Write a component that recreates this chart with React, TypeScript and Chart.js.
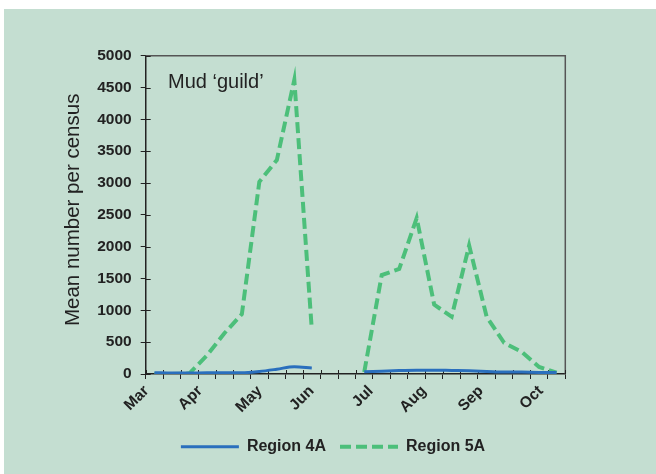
import React, { useEffect, useRef } from 'react';
import { Chart, registerables } from 'chart.js';

Chart.register(...registerables);

// Census index (one per sampling census, Mar -> Oct)
const censusIndex = [0, 1, 2, 3, 4, 5, 6, 7, 8, 9, 10, 11, 12, 13, 14, 15, 16, 17, 18, 19, 20, 21, 22, 23];
const region4A = [20, 15, 15, 20, 20, 20, 40, 75, 115, 95, null, null, 35, 45, 55, 60, 60, 55, 50, 40, 30, 30, 25, 25];
const region5A = [0, 0, 10, 290, 640, 940, 3020, 3360, 4620, 700, null, null, 30, 1555, 1650, 2450, 1090, 900, 2020, 900, 490, 350, 110, 20];
const monthLabels = ['Mar', 'Apr', 'May', 'Jun', 'Jul', 'Aug', 'Sep', 'Oct'];
const monthPositions = [-0.45, 2.6, 6.03, 8.99, 12.38, 15.41, 18.68, 22.1];
const yMin = 0;
const yMax = 5000;
const yStep = 500;
const yTitle = 'Mean number per census';
const panelNote = 'Mud \u2018guild\u2019';

const FONT = '"Liberation Sans", Arial, Helvetica, sans-serif';
const INK = '#222222';

const boundaryValues = Array.from({ length: censusIndex.length + 1 }, (_, k) => k - 0.5);

const isMonthTick = (v: number) => monthPositions.some((m) => Math.abs(m - v) < 1e-6);

const extrasPlugin = {
  id: 'extras',
  beforeDatasetsDraw(chart: any) {
    const { ctx, chartArea, scales } = chart;
    ctx.save();
    // frame top & right
    ctx.strokeStyle = '#555555';
    ctx.lineWidth = 1.5;
    ctx.beginPath();
    ctx.moveTo(chartArea.left, chartArea.top);
    ctx.lineTo(chartArea.right, chartArea.top);
    ctx.lineTo(chartArea.right, chartArea.bottom);
    ctx.stroke();
    // inner halves of tick marks
    ctx.strokeStyle = INK;
    ctx.lineWidth = 1;
    scales.y.ticks.forEach((t: any, i: number) => {
      const py = Math.round(scales.y.getPixelForTick(i)) + 0.5;
      ctx.beginPath();
      ctx.moveTo(chartArea.left, py);
      ctx.lineTo(chartArea.left + 5, py);
      ctx.stroke();
    });
    scales.x.ticks.forEach((t: any, i: number) => {
      if (isMonthTick(t.value)) return;
      const px = Math.round(scales.x.getPixelForTick(i)) + 0.5;
      ctx.beginPath();
      ctx.moveTo(px, chartArea.bottom);
      ctx.lineTo(px, chartArea.bottom - 4);
      ctx.stroke();
    });
    ctx.restore();
  },
  afterDraw(chart: any) {
    const { ctx, chartArea } = chart;
    ctx.save();
    ctx.fillStyle = INK;
    ctx.font = `20px ${FONT}`;
    ctx.textBaseline = 'alphabetic';
    ctx.textAlign = 'left';
    ctx.fillText(panelNote, chartArea.left + 22.3, chartArea.top + 32.6);
    // y-axis title
    ctx.font = `20.5px ${FONT}`;
    ctx.textAlign = 'center';
    ctx.textBaseline = 'middle';
    ctx.translate(69, (chartArea.top + chartArea.bottom) / 2 - 5);
    ctx.rotate(-Math.PI / 2);
    ctx.fillText(yTitle, 0, 0);
    ctx.restore();
  },
};

export default function App() {
  const canvasRef = useRef<HTMLCanvasElement | null>(null);

  useEffect(() => {
    const canvas = canvasRef.current;
    if (!canvas) return;
    const chart = new Chart(canvas, {
      type: 'line',
      data: {
        datasets: [
          {
            label: 'Region 4A',
            data: censusIndex.map((x, i) => ({ x, y: region4A[i] })) as any,
            borderColor: '#2a6fbd',
            backgroundColor: '#2a6fbd',
            borderWidth: 3,
            pointRadius: 0,
            cubicInterpolationMode: 'monotone',
            spanGaps: false,
          },
          {
            label: 'Region 5A',
            data: censusIndex.map((x, i) => ({ x, y: region5A[i] })) as any,
            borderColor: '#4cbf7a',
            backgroundColor: '#4cbf7a',
            borderWidth: 4,
            borderDash: [11, 5],
            pointRadius: 0,
            tension: 0,
            spanGaps: false,
          },
        ],
      },
      options: {
        responsive: false,
        animation: false,
        events: [],
        layout: { padding: { top: 46.7, left: 6, right: 0, bottom: 9.3 } },
        plugins: {
          tooltip: { enabled: false },
          legend: {
            position: 'bottom',
            labels: {
              usePointStyle: true,
              pointStyle: 'line',
              pointStyleWidth: 58,
              padding: 14,
              color: INK,
              font: { family: FONT, size: 16, weight: 'bold' },
              generateLabels: (chart: any) => {
                const items = Chart.defaults.plugins.legend.labels.generateLabels(chart);
                return items.map((it: any) => {
                  const ds = chart.data.datasets[it.datasetIndex];
                  return {
                    ...it,
                    pointStyle: 'line',
                    lineDash: ds.borderDash || [],
                    lineWidth: ds.borderWidth,
                    strokeStyle: ds.borderColor,
                    fillStyle: ds.borderColor,
                    lineCap: 'butt',
                  };
                });
              },
            },
          },
        },
        scales: {
          x: {
            type: 'linear',
            min: -0.5,
            max: censusIndex.length - 0.5,
            afterBuildTicks: (scale: any) => {
              const vals = [...boundaryValues, ...monthPositions].sort((a, b) => a - b);
              scale.ticks = vals.map((v) => ({ value: v }));
            },
            afterFit: (scale: any) => {
              scale.height = 50.7;
            },
            grid: {
              drawOnChartArea: false,
              drawTicks: true,
              tickLength: 5,
              tickColor: (c: any) => (c.tick && isMonthTick(c.tick.value) ? 'rgba(0,0,0,0)' : INK),
              tickWidth: 1,
            },
            border: { color: INK, width: 1.5 },
            ticks: {
              autoSkip: false,
              minRotation: 45,
              maxRotation: 45,
              padding: 3,
              color: INK,
              font: { family: FONT, size: 15.5, weight: 'bold' },
              callback: (v: any) => {
                const idx = monthPositions.findIndex((m) => Math.abs(m - Number(v)) < 1e-6);
                return idx >= 0 ? monthLabels[idx] : '';
              },
            },
          },
          y: {
            min: yMin,
            max: yMax,
            afterFit: (scale: any) => {
              scale.width = 135.7;
            },
            ticks: {
              stepSize: yStep,
              padding: 9,
              color: INK,
              font: { family: FONT, size: 15.5, weight: 'bold' },
              callback: (v: any) => String(v),
            },
            grid: {
              drawOnChartArea: false,
              tickLength: 5,
              tickColor: INK,
              tickWidth: 1,
            },
            border: { color: INK, width: 1.5 },
          },
          yRight: {
            position: 'right',
            display: true,
            afterFit: (scale: any) => {
              scale.width = 90.7;
            },
            ticks: { display: false },
            grid: { display: false },
            border: { display: false },
          },
        },
      } as any,
      plugins: [extrasPlugin],
    });
    return () => chart.destroy();
  }, []);

  return (
    <div style={{ position: 'absolute', left: 0, top: 0, width: 656, height: 474, background: '#ffffff' }}>
      <div style={{ position: 'absolute', left: 4, top: 9, width: 652, height: 465, background: '#c4ded1' }}>
        <canvas ref={canvasRef} width={652} height={465} style={{ display: 'block' }} />
      </div>
    </div>
  );
}
